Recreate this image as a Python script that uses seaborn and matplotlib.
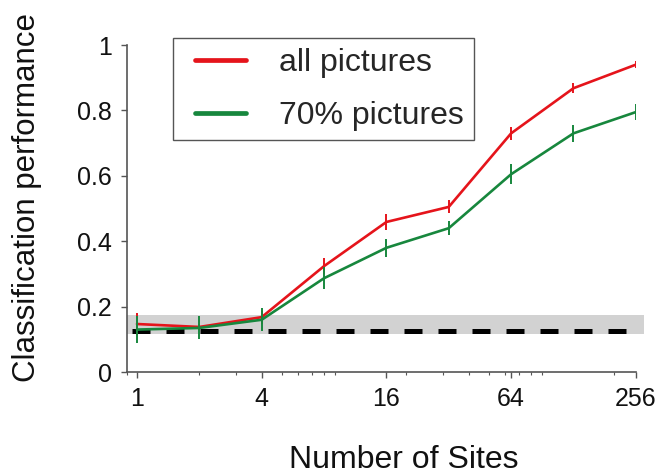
import numpy as np
import pandas as pd
import matplotlib
matplotlib.use("Agg")
import matplotlib.pyplot as plt
import matplotlib.ticker as mticker
from matplotlib.lines import Line2D
from matplotlib.legend_handler import HandlerLine2D
import seaborn as sns

# --- data ---
sites = [1, 2, 4, 8, 16, 32, 64, 128, 256]
perf_all = [0.147, 0.138, 0.168, 0.324, 0.459, 0.505, 0.730, 0.868, 0.940]
err_all = [0.035, 0.010, 0.020, 0.025, 0.025, 0.020, 0.020, 0.015, 0.010]
perf_70 = [0.130, 0.135, 0.160, 0.287, 0.380, 0.440, 0.605, 0.730, 0.795]
err_70 = [0.040, 0.035, 0.035, 0.033, 0.027, 0.022, 0.030, 0.025, 0.024]
labels = ["all pictures", "70% pictures"]
chance = 0.125
chance_band = (0.115, 0.175)
xticks = [1, 4, 16, 64, 256]
yticks = [0, 0.2, 0.4, 0.6, 0.8, 1]

colors = {"all pictures": "#e5141b", "70% pictures": "#17873d"}

df = pd.DataFrame({
    "sites": sites * 2,
    "perf": perf_all + perf_70,
    "err": err_all + err_70,
    "set": [labels[0]] * len(sites) + [labels[1]] * len(sites),
})

sns.set_style("ticks")
plt.rcParams["font.family"] = ["Liberation Sans", "DejaVu Sans"]

fig = plt.figure(figsize=(6.6, 4.74), dpi=100)
ax = fig.add_axes([0.1924, 0.215, 0.771, 0.69])

# chance band and chance line
ax.axhspan(chance_band[0], chance_band[1], xmin=0, xmax=1.017,
           color="#d2d2d2", lw=0, clip_on=False, zorder=1)
ax.axhline(chance, xmin=0.01, xmax=1.0, color="black", lw=3.6,
           dashes=(3.6, 3.2), clip_on=False, zorder=2)

sns.lineplot(data=df, x="sites", y="perf", hue="set", palette=colors,
             linewidth=1.9, ax=ax, zorder=4, errorbar=None)

for name in labels:
    sub = df[df["set"] == name]
    ax.errorbar(sub["sites"], sub["perf"], yerr=sub["err"], fmt="none",
                ecolor=colors[name], elinewidth=1.4, capsize=0, zorder=5)

ax.set_xscale("log", base=2)
ax.set_xlim(2 ** -0.16, 256)
ax.set_ylim(0, 1)
ax.xaxis.set_major_locator(mticker.FixedLocator(xticks))
ax.xaxis.set_major_formatter(mticker.FixedFormatter([str(t) for t in xticks]))
ax.xaxis.set_minor_locator(mticker.LogLocator(base=10, subs=np.arange(2, 10)))
ax.xaxis.set_minor_formatter(mticker.NullFormatter())
ax.set_yticks(yticks)
ax.set_yticklabels(["0", "0.2", "0.4", "0.6", "0.8", "1"])

ax.tick_params(axis="both", which="major", labelsize=18, length=4,
               width=1, color="#555555", pad=7, labelcolor="#111111")
ax.tick_params(axis="x", which="minor", length=2.5, width=0.8, color="#555555")
for s in ["left", "bottom"]:
    ax.spines[s].set_color("#555555")
    ax.spines[s].set_linewidth(1.2)
sns.despine(ax=ax)

ax.set_xlabel("Number of Sites", fontsize=23, color="#111111")
ax.set_ylabel("Classification performance", fontsize=22.5, color="#111111")
ax.xaxis.set_label_coords(0.544, -0.222)
ax.yaxis.set_label_coords(-0.167, 0.535)

handles, labs = ax.get_legend_handles_labels()
leg = ax.legend(handles, labs, loc="upper left", bbox_to_anchor=(0.0904, 1.021),
                borderaxespad=0, fontsize=23, frameon=True, fancybox=False,
                handlelength=2.0, handletextpad=1.03, labelspacing=0.72,
                borderpad=0.3, handler_map={Line2D: HandlerLine2D(xpad=0.4)})
leg.get_frame().set_edgecolor("#555555")
leg.get_frame().set_linewidth(1.0)
leg.get_frame().set_alpha(1)
for line in leg.get_lines():
    line.set_linewidth(3.4)

fig.savefig("out.png", dpi=100)
